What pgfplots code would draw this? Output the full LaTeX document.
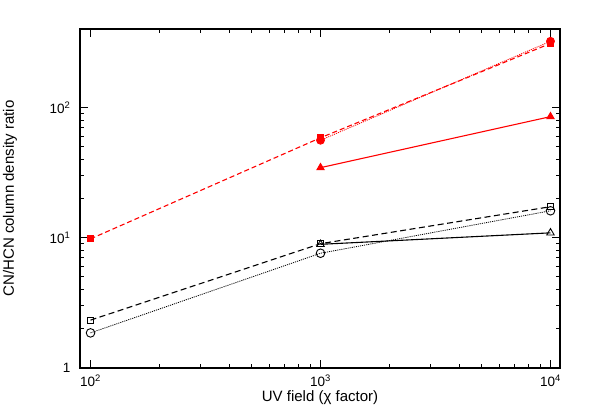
\documentclass[border=0pt]{standalone}
\usepackage{fontspec}
\setmainfont{Liberation Sans}
\usepackage{pgfplots}
\pgfplotsset{compat=1.18}
\begin{document}
\begin{tikzpicture}[x=1pt,y=1pt]
\useasboundingbox (-80,-50) rectangle (518,368);
\begin{axis}[
  at={(0,0)}, anchor=south west,
  scale only axis, width=480pt, height=339pt,
  xmode=log, ymode=log,
  xmin=90, xmax=11000, ymin=1, ymax=400,
  xtick={100,1000,10000},
  xticklabels={10\textsuperscript{2},10\textsuperscript{3},10\textsuperscript{4}},
  ytick={1,10,100},
  yticklabels={1,10\textsuperscript{1},10\textsuperscript{2}},
  tick align=inside, ticks=both,
  major tick length=8pt, minor tick length=4pt,
  tick style={black, line width=0.9pt},
  axis line style={line width=1.2pt},
  tick label style={font=\fontsize{13.5}{16}\selectfont},
  xticklabel style={yshift=-3pt},
  yticklabel style={xshift=-6pt},
  label style={font=\fontsize{15}{17}\selectfont},
  xlabel={UV field (χ factor)},
  ylabel={CN/HCN column density ratio},
  xlabel style={at={(axis description cs:0.5,-0.0885)}, anchor=center},
  ylabel style={at={(axis description cs:-0.146,0.5)}, anchor=center},
  every axis plot/.append style={line width=1.1pt},
]
% red series (filled marks)
\addplot[red, dash pattern=on 5pt off 3pt, mark=square*, mark size=3pt, mark options={solid}]
  coordinates {(100,9.8)(1000,58.5)(10000,310)};
\addplot[red, densely dotted, line width=0.8pt, mark=*, mark size=4pt, mark options={solid}]
  coordinates {(1000,56)(10000,322)};
\addplot[red, solid, mark=triangle*, mark size=4pt]
  coordinates {(1000,34.5)(10000,85)};
% black series (open marks)
\addplot[black, dash pattern=on 6pt off 3.5pt, mark=square, mark size=3pt, mark options={solid, line width=0.9pt}]
  coordinates {(100,2.33)(1000,9.0)(10000,17.3)};
\addplot[black, densely dotted, line width=0.8pt, mark=o, mark size=4.3pt, mark options={solid, line width=0.9pt}]
  coordinates {(100,1.86)(1000,7.6)(10000,16.1)};
\addplot[black, solid, mark=triangle, mark size=4.3pt, mark options={solid, line width=0.9pt}]
  coordinates {(1000,8.9)(10000,10.9)};
\end{axis}
\end{tikzpicture}
\end{document}
